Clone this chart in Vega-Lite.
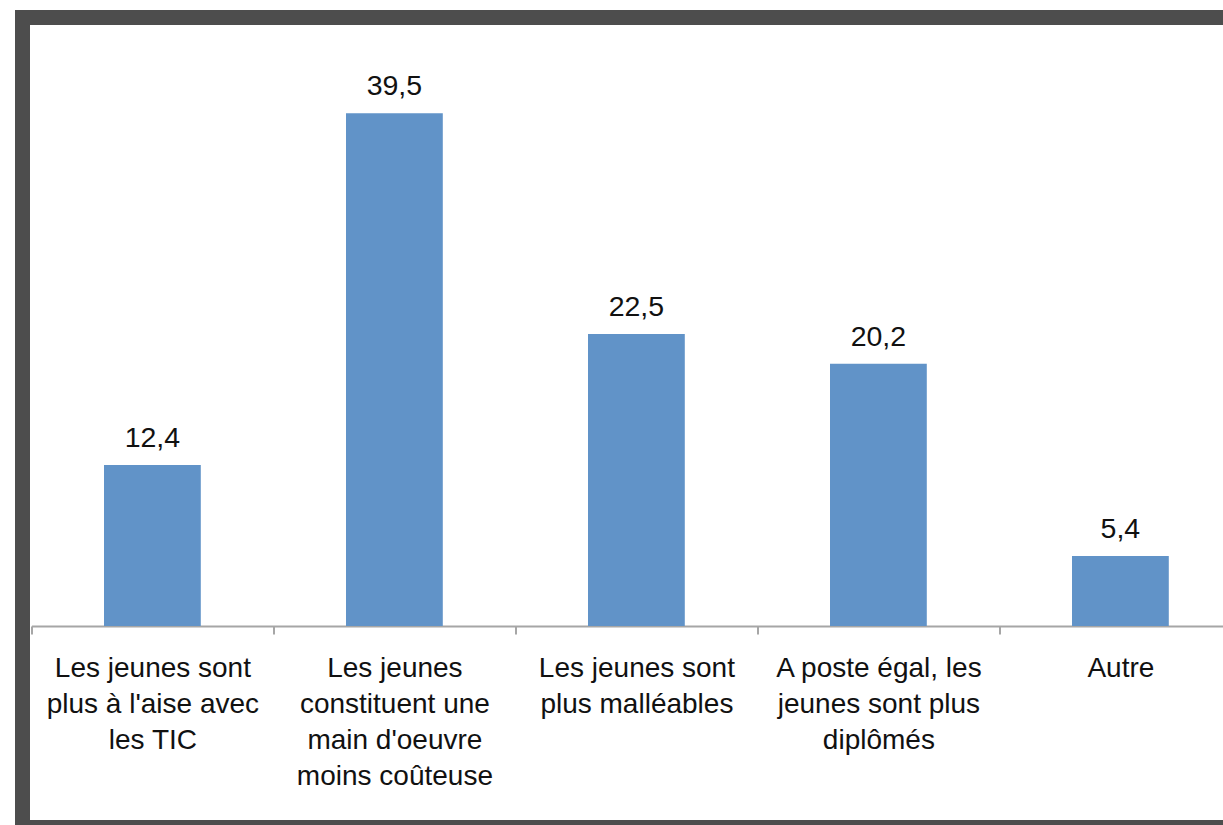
{
  "$schema": "https://vega.github.io/schema/vega-lite/v6.json",
  "width": 1240,
  "height": 810,
  "autosize": {"type": "none"},
  "padding": {"left": 22.5, "top": 17.5, "right": -39.5, "bottom": -2.5},
  "background": "white",
  "config": {
    "view": {"stroke": "#4d4d4d", "strokeWidth": 15, "fill": "white"},
    "font": "Liberation Sans",
    "locale": {"number": {"decimal": ",", "thousands": " ", "grouping": [3], "currency": ["", " €"]}}
  },
  "data": {
    "values": [
      {"categorie": "Les jeunes sont\nplus à l'aise avec\nles TIC", "pct": 12.4},
      {"categorie": "Les jeunes\nconstituent une\nmain d'oeuvre\nmoins coûteuse", "pct": 39.5},
      {"categorie": "Les jeunes sont\nplus malléables", "pct": 22.5},
      {"categorie": "A poste égal, les\njeunes sont plus\ndiplômés", "pct": 20.2},
      {"categorie": "Autre", "pct": 5.4}
    ]
  },
  "encoding": {
    "x": {
      "field": "categorie",
      "type": "nominal",
      "sort": null,
      "scale": {"range": [8.9, 1218.9], "paddingInner": 0, "paddingOuter": 0},
      "axis": {
        "orient": "bottom",
        "offset": -201.5,
        "title": null,
        "labelAngle": 0,
        "labelExpr": "split(datum.label, '\\n')",
        "labelFont": "Liberation Sans",
        "labelFontSize": 28,
        "labelColor": "#111111",
        "labelLineHeight": 36,
        "labelLimit": 0,
        "labelOverlap": false,
        "labelPadding": 20,
        "labelBaseline": "top",
        "domainColor": "#a6a6a6",
        "domainWidth": 2,
        "tickColor": "#a6a6a6",
        "tickWidth": 2,
        "tickSize": 8,
        "tickBand": "extent",
        "grid": false
      }
    },
    "y": {
      "field": "pct",
      "type": "quantitative",
      "scale": {"domain": [-15.52, 46.88], "nice": false},
      "axis": null
    }
  },
  "layer": [
    {
      "mark": {"type": "bar", "color": "#6193c8", "width": {"band": 0.4}},
      "encoding": {"y2": {"datum": 0}}
    },
    {
      "mark": {"type": "text", "font": "Liberation Sans", "fontSize": 28.5, "dy": -18, "baseline": "alphabetic", "color": "#111111"},
      "encoding": {"text": {"field": "pct", "type": "quantitative", "format": ".1f"}}
    }
  ]
}
